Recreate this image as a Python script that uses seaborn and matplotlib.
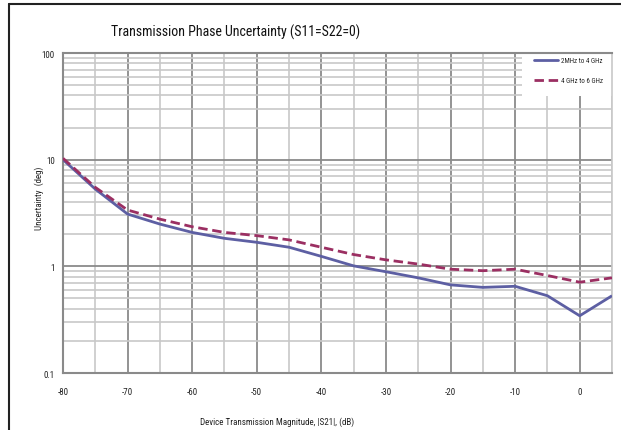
import matplotlib
matplotlib.use("Agg")
import matplotlib.pyplot as plt
import matplotlib.ticker as mticker
from matplotlib.lines import Line2D
from matplotlib.patches import Rectangle
from matplotlib import font_manager
import seaborn as sns
import pandas as pd
import numpy as np

# ---- data ----
magnitude_db = [-80, -75, -70, -65, -60, -55, -50, -45, -40, -35, -30, -25, -20, -15, -10, -5, 0, 5]
band_low = [10.0, 5.3, 3.09, 2.49, 2.08, 1.83, 1.68, 1.51, 1.24, 1.01, 0.89, 0.78, 0.67, 0.635, 0.65, 0.53, 0.344, 0.53]
band_high = [10.3, 5.5, 3.37, 2.77, 2.35, 2.08, 1.94, 1.77, 1.51, 1.29, 1.15, 1.05, 0.94, 0.91, 0.94, 0.82, 0.71, 0.78]
series_names = ["2MHz to 4 GHz", "4 GHz to 6 GHz"]
x_ticks = [-80, -70, -60, -50, -40, -30, -20, -10, 0]
y_ticks = [0.1, 1, 10, 100]
y_tick_labels = ["0.1", "1", "10", "100"]

df = pd.DataFrame({
    "x": magnitude_db * 2,
    "y": band_low + band_high,
    "series": [series_names[0]] * len(magnitude_db) + [series_names[1]] * len(magnitude_db),
})

sns.set_style("white")

# pick a condensed family if one is installed
names = sorted({f.name for f in font_manager.fontManager.ttflist})
narrow = None
for pref in ["Liberation Sans Narrow", "Roboto Condensed", "Open Sans Condensed",
             "DejaVu Sans Condensed", "Noto Sans Condensed"]:
    if pref in names:
        narrow = pref
        break
if narrow is None:
    for n in names:
        if "Narrow" in n or "Condensed" in n:
            narrow = n
            break
condensed_stretch = False
if narrow is None:
    for f in font_manager.fontManager.ttflist:
        if f.stretch in ("condensed", "semi-condensed") or (isinstance(f.stretch, int) and f.stretch < 500):
            narrow = f.name
            condensed_stretch = True
            break
fam = [narrow, "DejaVu Sans"] if narrow else ["DejaVu Sans"]
plt.rcParams["font.family"] = fam
if condensed_stretch:
    plt.rcParams["font.stretch"] = "condensed"
scale = 1.0 if narrow else 0.78

W, H = 621, 431
fig = plt.figure(figsize=(W / 100, H / 100), dpi=100)
ax = fig.add_axes([63 / W, 1 - 374 / H, (612 - 63) / W, (374 - 54) / H])

ax.set_yscale("log")
ax.set_xlim(-80, 5)
ax.set_ylim(0.1, 100)

major_c = "#8a8a8a"
minor_c = "#c8c8c8"
ax.set_axisbelow(True)
ax.xaxis.set_major_locator(mticker.FixedLocator(x_ticks))
ax.xaxis.set_minor_locator(mticker.MultipleLocator(5))
ax.yaxis.set_major_locator(mticker.FixedLocator(y_ticks))
ax.yaxis.set_minor_locator(mticker.LogLocator(base=10, subs=np.arange(2, 10)))
ax.yaxis.set_minor_formatter(mticker.NullFormatter())
ax.grid(which="minor", color=minor_c, linewidth=1.2)
ax.grid(which="major", color=major_c, linewidth=1.3)

palette = {series_names[0]: "#5d5fa3", series_names[1]: "#9b2f62"}
sns.lineplot(data=df, x="x", y="y", hue="series", style="series",
             palette=palette, dashes={series_names[0]: "", series_names[1]: (3.4, 1.7)},
             linewidth=2.0, ax=ax, legend=False, sort=False, zorder=3)
for ln in ax.get_lines():
    ln.set_solid_capstyle("butt")

ax.set_xticks(x_ticks)
ax.set_xticklabels([str(v) for v in x_ticks])
ax.set_yticks(y_ticks)
ax.set_yticklabels(y_tick_labels)
ax.tick_params(axis="both", which="major", labelsize=6.5 * scale, length=4,
               width=1, direction="out", color=major_c)
ax.tick_params(axis="y", which="major", pad=2)
ax.tick_params(axis="x", which="major", pad=6)
ax.tick_params(which="minor", length=0)
for lab in ax.get_xticklabels() + ax.get_yticklabels():
    lab.set_color("#222222")

for side in ["left", "bottom", "top"]:
    ax.spines[side].set_color(major_c)
    ax.spines[side].set_linewidth(1.5)
ax.spines["right"].set_color(minor_c)
ax.spines["right"].set_linewidth(1.2)

ax.set_xlabel("")
ax.set_ylabel("")

# legend: white box covering grid in upper right
ax.add_patch(Rectangle((522 / W, 1 - 97 / H), (612 - 522) / W, (97 - 54) / H,
                       transform=fig.transFigure, facecolor="white", edgecolor="none",
                       zorder=2.5))
handles = [Line2D([0], [0], color=palette[series_names[0]], lw=2.0),
           Line2D([0], [0], color=palette[series_names[1]], lw=2.0, ls=(0, (3.4, 1.7)))]
leg = ax.legend(handles, series_names, loc="upper left",
                bbox_to_anchor=(534 / W, 1 - 58 / H), bbox_transform=fig.transFigure,
                fontsize=5 * scale, frameon=False, handlelength=3.4 / scale,
                labelspacing=1.9 / scale, borderpad=0, borderaxespad=0,
                handletextpad=0.5 / scale)
leg.set_zorder(4)

fig.text(236 / W, 1 - 32 / H, "Transmission Phase Uncertainty (S11=S22=0)",
         ha="center", va="center", fontsize=10 * scale, color="#111111")
fig.text(277 / W, 1 - 422 / H, "Device Transmission Magnitude, |S21|, (dB)",
         ha="center", va="center", fontsize=6.5 * scale, color="#222222")
fig.text(39 / W, 1 - 198 / H, "Uncertainty  (deg)", rotation=90,
         ha="center", va="center", fontsize=6.5 * scale, color="#222222")

# outer frame (left and top edges)
fig.add_artist(Line2D([9 / W, 9 / W], [0, 1 - 5 / H], transform=fig.transFigure,
                      color="#222222", lw=1.5))
fig.add_artist(Line2D([9 / W, 1], [1 - 5 / H, 1 - 5 / H], transform=fig.transFigure,
                      color="#222222", lw=1.5))

fig.savefig("out.png", dpi=100)
